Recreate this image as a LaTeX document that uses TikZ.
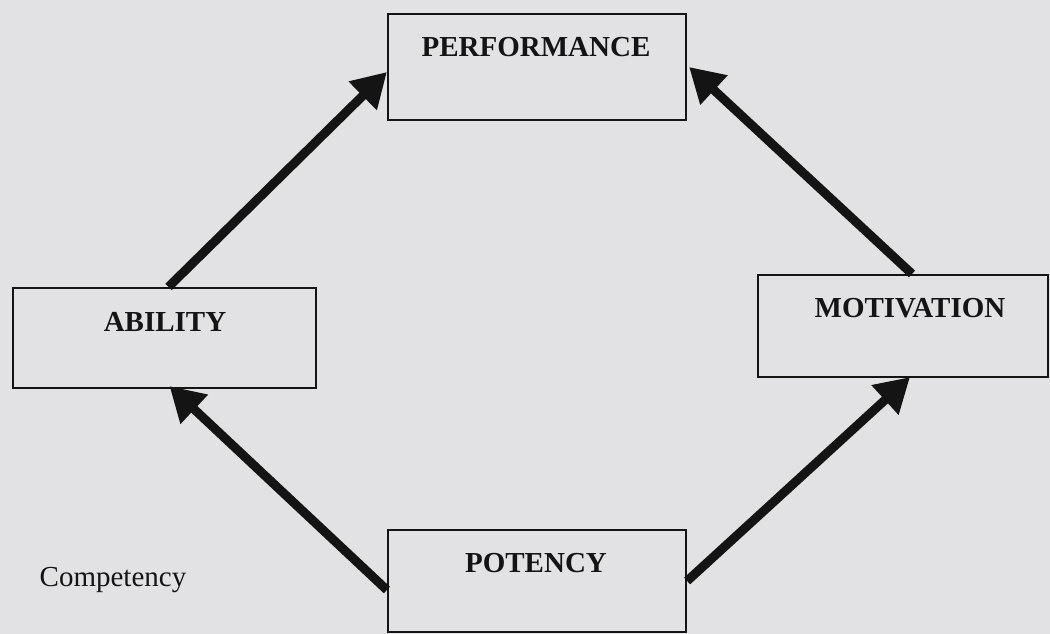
\documentclass[tikz,border=0pt]{standalone}
\usepackage{fontspec}
\setmainfont{Liberation Serif}
\usetikzlibrary{arrows.meta,calc}
\definecolor{bg}{RGB}{226,226,228}
\definecolor{ink}{RGB}{20,20,20}
\tikzset{
  box/.style={draw=ink, line width=2.2pt, rectangle, inner sep=0pt},
  boxtext/.style={font=\fontsize{29}{34}\selectfont\bfseries, text=ink, inner sep=0pt},
  bigarrow/.style={draw=ink, line width=9pt, -{Triangle[length=34pt,width=38pt]}}
}
\begin{document}
\begin{tikzpicture}[x=1pt,y=-1pt]
  \fill[bg] (0,0) rectangle (1050,634);
  \useasboundingbox (0,0) rectangle (1050,634);
  % boxes
  \node[box, minimum width=298pt, minimum height=106pt] (performance) at (537,67) {};
  \node[box, minimum width=303pt, minimum height=100pt] (ability) at (164.5,338) {};
  \node[box, minimum width=290pt, minimum height=102pt] (motivation) at (903,326) {};
  \node[box, minimum width=298pt, minimum height=102pt] (potency) at (537,581) {};
  % texts
  \node[boxtext] (tperf) at (536,47) {PERFORMANCE};
  \node[boxtext] (tabil) at (165,322) {ABILITY};
  \node[boxtext] (tmot) at (910,308) {MOTIVATION};
  \node[boxtext] (tpot) at (536,563) {POTENCY};
  \node[font=\fontsize{29}{34}\selectfont, text=ink, inner sep=0pt] (comp) at (113,580) {Competency};
  % arrows
  \draw[bigarrow] ([xshift=4pt]ability.north) -- ([yshift=-5pt]performance.west);
  \draw[bigarrow] ([xshift=9pt]motivation.north) -- ([xshift=2pt]performance.east);
  \draw[bigarrow] ([yshift=-9pt]potency.west) -- ([xshift=5pt,yshift=3pt]ability.south);
  \draw[bigarrow] (potency.east) -- ([xshift=7pt,yshift=1pt]motivation.south);
\end{tikzpicture}
\end{document}
